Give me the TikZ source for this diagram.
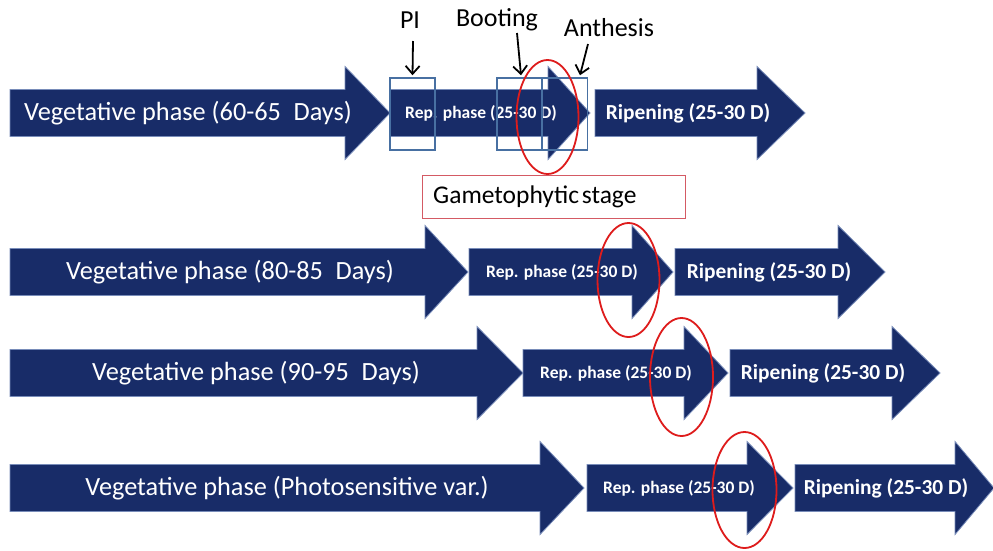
\documentclass[tikz,border=0pt]{standalone}
\usepackage{fontspec}
\setmainfont{Carlito}
\usetikzlibrary{arrows.meta,calc}
\definecolor{navy}{RGB}{24,44,104}
\definecolor{navyedge}{RGB}{120,140,185}
\definecolor{boxblue}{RGB}{72,112,162}
\definecolor{ringred}{RGB}{222,28,28}
\definecolor{pinkred}{RGB}{212,90,100}
% #1 left x, #2 head base x, #3 tip x, #4 centre y
\newcommand\pharrow[4]{%
  \filldraw[fill=navy,draw=navyedge,line width=0.8pt,line join=miter]
    (#1,#4-23.5) -- (#2,#4-23.5) -- (#2,#4-46.5) -- (#3,#4)
    -- (#2,#4+46.5) -- (#2,#4+23.5) -- (#1,#4+23.5) -- cycle;}
\begin{document}
\begin{tikzpicture}[x=1pt,y=-1pt,
  vegtext/.style={text=white,inner sep=0pt,font=\fontsize{26.3}{30}\selectfont},
  reptext/.style={text=white,inner sep=0pt,font=\fontsize{17.5}{20}\selectfont\bfseries},
  riptext/.style={text=white,inner sep=0pt,font=\fontsize{21.4}{24}\selectfont\bfseries},
  toplabel/.style={text=black,inner sep=0pt,font=\fontsize{26}{29}\selectfont},
  stagebox/.style={draw=boxblue,line width=1.5pt,minimum width=45pt,minimum height=72pt,inner sep=0pt},
  ring/.style={draw=ringred,line width=1.8pt},
  varrow/.style={draw=black,line width=1.8pt,-{Straight Barb[length=8pt,width=14pt,line width=1.8pt]}}]
\useasboundingbox (0,0) rectangle (993,550);
\fill[white] (0,0) rectangle (993,550);

% ---------- Row 1 ----------
\pharrow{10}{345}{390}{113}
\pharrow{390}{548}{590}{113}
\pharrow{595}{757}{805}{113}
\node[vegtext] (veg1) at (188,113) {Vegetative phase (60-65\hspace{0.25em} Days)};
\node[reptext] (rep1) at (481,113) {Rep. phase (25-30 D)};
\node[riptext] (rip1) at (688,113) {Ripening (25-30 D)};

\node[stagebox] (pibox) at (412.5,114) {};
\node[stagebox] (bootbox) at (519.5,114) {};
\node[stagebox] (anthbox) at (565,114) {};

\node[toplabel] (pi) at (410,20) {PI};
\node[toplabel] (boot) at (497,20) {Booting};
\node[toplabel] (anth) at (609,28) {Anthesis};

\coordinate (pistart) at (413,41);
\coordinate (bootstart) at (517,33);
\coordinate (anthstart) at (588,44);
\draw[varrow] (pistart) -- ([yshift=2pt]pibox.north);
\draw[varrow] (bootstart) -- ([xshift=1.5pt,yshift=2pt]bootbox.north);
\draw[varrow] (anthstart) -- ([xshift=15pt,yshift=2pt]anthbox.north);

\draw[ring] (547.5,117) ellipse [x radius=31,y radius=57];

\node[draw=pinkred,line width=0.9pt,minimum width=263pt,minimum height=43pt,inner sep=0pt] (gamebox) at (553.5,196.5) {};
\node[text=black,anchor=west,inner sep=0pt,font=\fontsize{25.5}{28}\selectfont] (gametext) at (433,197) {Gametophytic\hspace{-0.12em} stage};

% ---------- Row 2 ----------
\pharrow{10}{425}{468}{272}
\pharrow{469}{632}{673}{272}
\pharrow{675}{838}{885}{272}
\node[vegtext] (veg2) at (230,272) {Vegetative phase (80-85\hspace{0.25em} Days)};
\node[reptext] (rep2) at (562,272) {Rep. phase (25-30 D)};
\node[riptext] (rip2) at (769,272) {Ripening (25-30 D)};
\draw[ring] (628.5,280) ellipse [x radius=31,y radius=57];

% ---------- Row 3 ----------
\pharrow{10}{477}{523}{373}
\pharrow{523}{684}{728}{373}
\pharrow{730}{892}{940}{373}
\node[vegtext] (veg3) at (256,373) {Vegetative phase (90-95\hspace{0.25em} Days)};
\node[reptext] (rep3) at (616,373) {Rep. phase (25-30 D)};
\node[riptext] (rip3) at (823,373) {Ripening (25-30 D)};
\draw[ring] (681.5,377) ellipse [x radius=31.5,y radius=59];

% ---------- Row 4 ----------
\pharrow{10}{540}{584}{488}
\pharrow{587}{747}{793}{488}
\pharrow{795}{955}{994}{488}
\node[vegtext] (veg4) at (287,488) {Vegetative phase (Photosensitive var.)};
\node[reptext] (rep4) at (679,488) {Rep. phase (25-30 D)};
\node[riptext] (rip4) at (886,488) {Ripening (25-30 D)};
\draw[ring] (744.5,490) ellipse [x radius=32,y radius=58];
\end{tikzpicture}
\end{document}
